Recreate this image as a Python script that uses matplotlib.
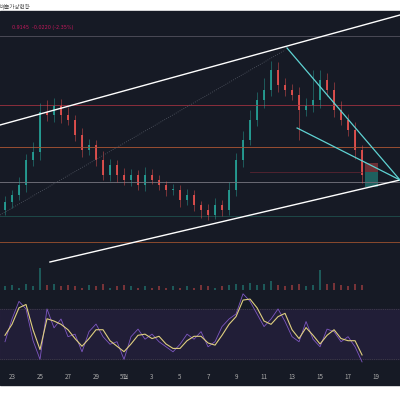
import matplotlib
matplotlib.use("Agg")
import matplotlib.pyplot as plt
import numpy as np

days = np.arange(-0.5, 25.01, 0.5)
closes = [78,85,95,120,128,168,165,175,165,160,145,130,135,120,105,115,105,100,105,95,105,100,95,90,90,80,
          85,75,70,65,75,70,90,120,140,160,180,190,210,195,190,185,170,175,180,200,190,170,160,150,130,105]
opens = [70] + closes[:-1]
wick_hi = [6,5,8,6,10,9,12,7,6,8,5,7,6,5,9,6,5,7,6,5,8,6,5,4,6,5,6,5,4,6,7,5,8,7,9,10,8,12,9,8,7,6,8,7,30,10,7,8,9,6,8,5]
wick_lo = [5,6,5,7,6,8,6,7,8,5,6,7,5,6,5,6,7,5,6,5,6,4,5,6,5,7,5,6,8,5,4,6,5,6,7,5,6,8,6,7,6,5,30,6,7,8,6,7,5,6,9,8]
volumes = [3,4,2,5,3,18,4,5,3,4,3,2,4,3,5,2,3,4,3,2,3,2,3,2,3,2,3,2,4,3,2,3,4,5,4,6,4,5,7,4,3,4,5,3,4,16,5,6,4,3,5,4]
rsi_ma = [49.1,57.8,70.9,73.5,53.5,37.8,62.2,60.4,57.8,53.5,46.5,40.4,46.5,53.5,53.5,44.8,40.4,36.1,42.2,49.1,50,46.5,
          48.3,42.2,38.7,38.7,44.8,48.3,48.3,43,41.3,49.1,57.8,63.9,77,77.8,70.9,60.4,57.8,63.9,66.5,53.5,46.5,55.2,
          49.1,42.2,49.1,53.5,46.5,44.8,44.8,33.5]
rsi_raw = [44,62,76,70,45,30,70,55,62,48,50,36,52,58,48,42,44,30,48,54,46,50,44,40,36,42,50,46,52,40,44,56,62,66,
           82,76,66,56,62,70,60,48,44,60,46,40,54,52,44,48,40,28]
date_pos = [0,2,4,6,8,10,12,14,16,18,20,22,24,26]
date_lbl = ["23","25","27","29","5월","3","5","7","9","11","13","15","17","19"]

BG = "#161a25"
KR = ["Noto Sans CJK KR"]
fig = plt.figure(figsize=(4,4), dpi=100, facecolor="white")
fig.patches.append(plt.Rectangle((0,0.0375),1,0.935,transform=fig.transFigure,color=BG,zorder=-1))
fig.text(0.0,0.985,"배출가상현황",fontsize=4,color="#555",family=KR,va="center")
fig.text(0.03,0.93,"0.9145  -0.0220 (-2.35%)",fontsize=3.5,color="#c2185b",va="center")

xl = (-0.857, 27.71)
ax = fig.add_axes([0,0.3375,1,0.6325]); ax.set_facecolor(BG)
axv = fig.add_axes([0,0.275,1,0.0625]); axv.set_facecolor(BG)
axr = fig.add_axes([0,0.07,1,0.205]); axr.set_facecolor(BG)
for a in (ax,axv,axr):
    a.set_xlim(*xl)
    for s in a.spines.values(): s.set_visible(False)
    a.tick_params(length=0,labelleft=False,labelbottom=False)
ax.set_ylim(15,268)

for y,c in [(244,"#4a4a56"),(175,"#8a2e3c"),(133,"#9a4e32"),(98,"#6a6a74"),(64,"#1e4848"),(38,"#8a4a2e")]:
    ax.axhline(y,color=c,lw=0.7)
ax.plot([17,25],[108,108],color="#5a2432",lw=0.6)

for d,o,c,h,l in zip(days,opens,closes,wick_hi,wick_lo):
    col = "#26a69a" if c>=o else "#ef5350"
    ax.vlines(d,min(o,c)-l,max(o,c)+h,color=col,lw=0.4,alpha=0.8)
    ax.bar(d,max(abs(c-o),1),bottom=min(o,c),width=0.18,color=col,lw=0,alpha=0.85)

ax.plot([-0.857,27.71],[155,265],color="white",lw=1.0)
ax.plot([2.71,27.71],[18,100],color="white",lw=1.0)
ax.plot([19.64,27.71],[232,100],color="#5fd3d3",lw=0.9)
ax.plot([20.36,27.71],[152,100],color="#5fd3d3",lw=0.9)
ax.plot([-0.857,19.5],[65,230],color="#555a66",lw=0.6,ls=":")
ax.bar(25.65,9,bottom=108,width=0.93,color="#ef5350",alpha=0.4)
ax.bar(25.65,15,bottom=93,width=0.93,color="#26a69a",alpha=0.5)

axv.bar(days,volumes,width=0.15,color=["#26a69a" if c>=o else "#ef5350" for o,c in zip(opens,closes)],alpha=0.45)
axv.set_ylim(0,20)

axr.set_ylim(20,85)
axr.axhspan(30,70,color="#231f3a",alpha=0.9)
axr.axhline(70,color="#555",lw=0.5,ls=":")
axr.axhline(30,color="#555",lw=0.5,ls=":")
axr.plot(days,rsi_raw,color="#7e57c2",lw=0.6)
axr.plot(days,rsi_ma,color="#e0d080",lw=0.8)
axr.set_xticks(date_pos)
axr.set_xticklabels(date_lbl,fontsize=4.5,color="#aaa",family=KR)
axr.tick_params(labelbottom=True,pad=1)
fig.savefig("out.png",dpi=100,facecolor="white")
